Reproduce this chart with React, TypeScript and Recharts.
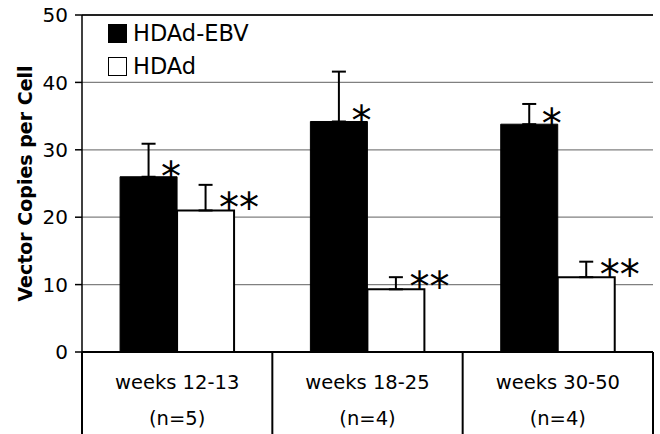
import React from 'react';
import {
  BarChart,
  Bar,
  XAxis,
  YAxis,
  CartesianGrid,
  ErrorBar,
  LabelList,
  Legend,
  ReferenceLine,
} from 'recharts';

const categories = ['weeks 12-13', 'weeks 18-25', 'weeks 30-50'];
const sampleSizes = ['(n=5)', '(n=4)', '(n=4)'];
const seriesNames = ['HDAd-EBV', 'HDAd'];
const hdadEbv = [26.0, 34.2, 33.8];
const hdadEbvErr = [4.9, 7.4, 3.0];
const hdad = [21.0, 9.3, 11.1];
const hdadErr = [3.8, 1.8, 2.3];
const hdadEbvMarks = ['*', '*', '*'];
const hdadMarks = ['**', '**', '**'];
const yTicks = [0, 10, 20, 30, 40, 50];

const data = categories.map((c, i) => ({
  category: c,
  n: sampleSizes[i],
  ebv: hdadEbv[i],
  ebvErr: [0, hdadEbvErr[i]],
  ebvMark: hdadEbvMarks[i],
  hdad: hdad[i],
  hdadErr: [0, hdadErr[i]],
  hdadMark: hdadMarks[i],
}));

const FONT = '"DejaVu Sans", Verdana, sans-serif';

const CategoryTick = (props: any) => {
  const { x, y, payload, index } = props;
  const half = payload.offset || 0;
  const idx = payload.index != null ? payload.index : index;
  const last = idx === categories.length - 1;
  return (
    <g>
      <line x1={x - half} x2={x - half} y1={y} y2={y + 90} stroke="#000" strokeWidth={2} />
      {last && <line x1={x + half} x2={x + half} y1={y} y2={y + 90} stroke="#000" strokeWidth={2} />}
      <text x={x} y={y + 37} textAnchor="middle" fontFamily={FONT} fontSize={19.5} fill="#000">
        {payload.value}
      </text>
      <text x={x} y={y + 73} textAnchor="middle" fontFamily={FONT} fontSize={19.5} fill="#000">
        {sampleSizes[idx]}
      </text>
    </g>
  );
};

const StarLabel = (shift: number, lift: number) => (props: any) => {
  const { x, y, width, value } = props;
  return (
    <text
      x={x + width + shift}
      y={y + lift}
      textAnchor="middle"
      fontFamily={FONT}
      fontSize={40}
      fill="#000"
    >
      {value}
    </text>
  );
};

const LegendContent = (props: any) => {
  const payload = [...(props.payload || [])].sort(
    (a: any, b: any) => seriesNames.indexOf(a.value) - seriesNames.indexOf(b.value)
  );
  return (
    <div style={{ fontFamily: FONT, fontSize: 22.5, color: '#000', lineHeight: '33px' }}>
      {payload.map((entry: any, i: number) => (
        <div key={i} style={{ display: 'flex', alignItems: 'center', height: 33, whiteSpace: 'nowrap' }}>
          <span
            style={{
              display: 'inline-block',
              width: 17,
              height: 17,
              background: entry.value === seriesNames[0] ? '#000' : '#fff',
              border: '1.5px solid #000',
              marginRight: 6,
            }}
          />
          <span>{entry.value}</span>
        </div>
      ))}
    </div>
  );
};

const YLabel = (props: any) => {
  const vb = props.viewBox || {};
  const cx = 25;
  const cy = vb.y + vb.height / 2;
  return (
    <text
      x={cx}
      y={cy}
      transform={`rotate(-90, ${cx}, ${cy})`}
      textAnchor="middle"
      dominantBaseline="central"
      fontFamily={FONT}
      fontWeight="bold"
      fontSize={19}
      fill="#000"
    >
      Vector Copies per Cell
    </text>
  );
};

export default function App() {
  return (
    <div style={{ position: 'absolute', left: 0, top: 0, background: '#fff' }}>
      <BarChart
        width={660}
        height={434}
        data={data}
        margin={{ top: 15, right: 7, bottom: 0, left: 0 }}
        barCategoryGap="20%"
        barGap={0}
      >
        <CartesianGrid horizontal vertical={false} stroke="#808080" strokeWidth={1.2} />
        <XAxis
          dataKey="category"
          height={82}
          tickLine={false}
          tickSize={0}
          tickMargin={0}
          axisLine={{ stroke: '#000', strokeWidth: 2 }}
          tick={<CategoryTick />}
          interval={0}
        />
        <YAxis
          domain={[0, 50]}
          ticks={yTicks}
          width={82}
          tickSize={7}
          tickMargin={7}
          interval={0}
          axisLine={{ stroke: '#000', strokeWidth: 1.5 }}
          tickLine={{ stroke: '#000', strokeWidth: 1.5 }}
          tick={{ fontFamily: FONT, fontSize: 20, fill: '#000' }}
          label={<YLabel />}
        />
        <YAxis
          yAxisId="right"
          orientation="right"
          width={0}
          domain={[0, 50]}
          tick={false}
          tickLine={false}
          axisLine={{ stroke: '#000', strokeWidth: 2 }}
        />
        <ReferenceLine y={50} stroke="#222" strokeWidth={2} />
        <Legend
          verticalAlign="middle"
          align="center"
          layout="horizontal"
          content={<LegendContent />}
          wrapperStyle={{ position: 'absolute', left: 108, top: 17, width: 'auto' }}
        />
        <Bar dataKey="ebv" name="HDAd-EBV" fill="#000" stroke="#000" strokeWidth={1} isAnimationActive={false}>
          <ErrorBar dataKey="ebvErr" direction="y" width={7} stroke="#000" strokeWidth={2} />
          <LabelList dataKey="ebvMark" content={StarLabel(-6, 14)} />
        </Bar>
        <Bar dataKey="hdad" name="HDAd" fill="#fff" stroke="#000" strokeWidth={2} isAnimationActive={false}>
          <ErrorBar dataKey="hdadErr" direction="y" width={7} stroke="#000" strokeWidth={2} />
          <LabelList dataKey="hdadMark" content={StarLabel(5, 12)} />
        </Bar>
      </BarChart>
    </div>
  );
}
